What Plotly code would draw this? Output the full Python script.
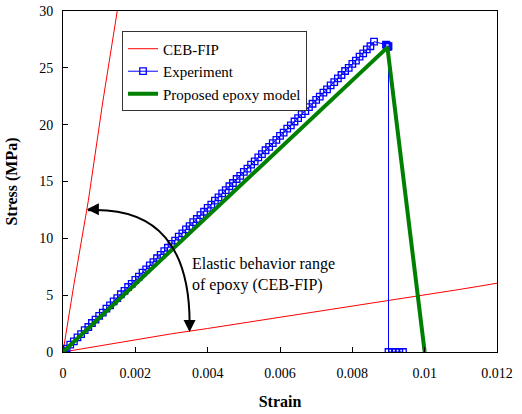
import plotly.graph_objects as go

# CEB-FIP elastic range (two limit lines, separated by None)
ceb_strain = [0.0, 0.0003, 0.0007, 0.0011, 0.00151, None,
              0.0, 0.001, 0.002, 0.003, 0.004, 0.005, 0.006, 0.007, 0.008, 0.009, 0.010, 0.011, 0.012]
ceb_stress = [0.0, 5.9, 13.3, 22.0, 30.2, None,
              0.0, 0.55, 1.08, 1.60, 2.07, 2.56, 3.06, 3.55, 4.04, 4.50, 4.98, 5.52, 6.05]

# Experiment
exp_strain = [0.0, 0.00002, 0.00005, 0.0001, 0.0002, 0.0003, 0.0004, 0.0005, 0.0006, 0.0007, 0.0008, 0.0009,
              0.0010, 0.0011, 0.0012, 0.0013, 0.0014, 0.0015, 0.0016, 0.0017, 0.0018, 0.0019,
              0.0020, 0.0021, 0.0022, 0.0023, 0.0024, 0.0025, 0.0026, 0.0027, 0.0028, 0.0029,
              0.0030, 0.0031, 0.0032, 0.0033, 0.0034, 0.0035, 0.0036, 0.0037, 0.0038, 0.0039,
              0.0040, 0.0041, 0.0042, 0.0043, 0.0044, 0.0045, 0.0046, 0.0047, 0.0048, 0.0049,
              0.0050, 0.0051, 0.0052, 0.0053, 0.0054, 0.0055, 0.0056, 0.0057, 0.0058, 0.0059,
              0.0060, 0.0061, 0.0062, 0.0063, 0.0064, 0.0065, 0.0066, 0.0067, 0.0068, 0.0069,
              0.0070, 0.0071, 0.0072, 0.0073, 0.0074, 0.0075, 0.0076, 0.0077, 0.0078, 0.0079,
              0.0080, 0.0081, 0.0082, 0.0083, 0.0084, 0.0085, 0.0086,
              0.00893, 0.00896, 0.00898, 0.00900, 0.00900,
              0.00910, 0.00920, 0.00930, 0.00940]
exp_stress = [0.0, 0.05, 0.12, 0.30, 0.65, 0.93, 1.28, 1.57, 1.92, 2.20, 2.55, 2.84,
              3.18, 3.47, 3.82, 4.10, 4.45, 4.74, 5.08, 5.37, 5.72, 6.00,
              6.35, 6.64, 6.98, 7.27, 7.62, 7.90, 8.25, 8.54, 8.88, 9.17,
              9.52, 9.80, 10.15, 10.44, 10.78, 11.07, 11.42, 11.70, 12.05, 12.34,
              12.68, 12.97, 13.32, 13.60, 13.95, 14.24, 14.58, 14.87, 15.22, 15.50,
              15.85, 16.14, 16.48, 16.77, 17.12, 17.40, 17.75, 18.04, 18.38, 18.67,
              19.02, 19.30, 19.65, 19.94, 20.28, 20.57, 20.92, 21.20, 21.55, 21.84,
              22.18, 22.47, 22.82, 23.10, 23.45, 23.74, 24.08, 24.37, 24.72, 25.00,
              25.35, 25.64, 25.98, 26.27, 26.62, 26.90, 27.30,
              27.05, 26.95, 26.85, 26.90, 0.0,
              0.0, 0.0, 0.0, 0.0]

# Proposed epoxy model
model_strain = [0.0, 0.00897, 0.0100]
model_stress = [0.0, 26.8, 0.0]

x_ticks = [0, 0.002, 0.004, 0.006, 0.008, 0.01, 0.012]
x_tick_labels = ["0", "0.002", "0.004", "0.006", "0.008", "0.01", "0.012"]
y_ticks = [0, 5, 10, 15, 20, 25, 30]

FONT = "Liberation Serif"

fig = go.Figure()
fig.add_trace(go.Scatter(x=ceb_strain, y=ceb_stress, mode="lines", name="CEB-FIP",
                         line=dict(color="#ff0000", width=1), connectgaps=False))
fig.add_trace(go.Scatter(x=exp_strain, y=exp_stress, mode="lines+markers", name="Experiment",
                         line=dict(color="#0000ff", width=1),
                         marker=dict(symbol="square-open", size=6.5, color="#0000ff", line=dict(width=1.3))))
fig.add_trace(go.Scatter(x=model_strain, y=model_stress, mode="lines", name="Proposed epoxy model",
                         line=dict(color="#008000", width=4)))

# curved double-headed arrow
fig.add_shape(type="path", xref="x", yref="y",
              path="M 0.00069,12.48 Q 0.00357,12.92 0.00350,1.95",
              line=dict(color="black", width=2))
fig.add_annotation(x=0.00066, y=12.55, xref="x", yref="y", text="", showarrow=True,
                   ax=10, ay=0, arrowhead=2, arrowsize=1.2, arrowwidth=2, arrowcolor="black")
fig.add_annotation(x=0.00350, y=1.75, xref="x", yref="y", text="", showarrow=True,
                   ax=0, ay=-10, arrowhead=2, arrowsize=1.2, arrowwidth=2, arrowcolor="black")
fig.add_annotation(x=0.00351, y=6.8, xref="x", yref="y", xanchor="left", yanchor="middle",
                   text="Elastic behavior range<br>of epoxy (CEB-FIP)", showarrow=False, align="left",
                   font=dict(family=FONT, size=16, color="black"))

fig.update_layout(
    width=522, height=414,
    margin=dict(l=63, r=25, t=11, b=62),
    paper_bgcolor="white", plot_bgcolor="white",
    font=dict(family=FONT, size=14, color="black"),
    showlegend=True,
    legend=dict(x=0.136, y=0.94, xanchor="left", yanchor="top",
                bordercolor="#333333", borderwidth=1, bgcolor="white",
                font=dict(family=FONT, size=15, color="black"),
                tracegroupgap=0, itemwidth=30),
)
fig.update_xaxes(range=[0, 0.012], tickvals=x_ticks, ticktext=x_tick_labels, automargin=False,
                 showline=True, linecolor="black", linewidth=1, mirror=True,
                 ticks="inside", ticklen=5, tickcolor="black", showgrid=False, zeroline=False,
                 ticklabelstandoff=8,
                 title=dict(text="<b>Strain</b>", font=dict(family=FONT, size=16), standoff=16))
fig.update_yaxes(range=[0, 30], tickvals=y_ticks, automargin=False,
                 showline=True, linecolor="black", linewidth=1, mirror=True,
                 ticks="inside", ticklen=5, tickcolor="black", showgrid=False, zeroline=False,
                 ticklabelstandoff=6,
                 title=dict(text="<b>Stress (MPa)</b>", font=dict(family=FONT, size=16), standoff=17))

fig.write_html("out.html", config={"displayModeBar": False},
               post_script="document.body.style.margin='0px';")
